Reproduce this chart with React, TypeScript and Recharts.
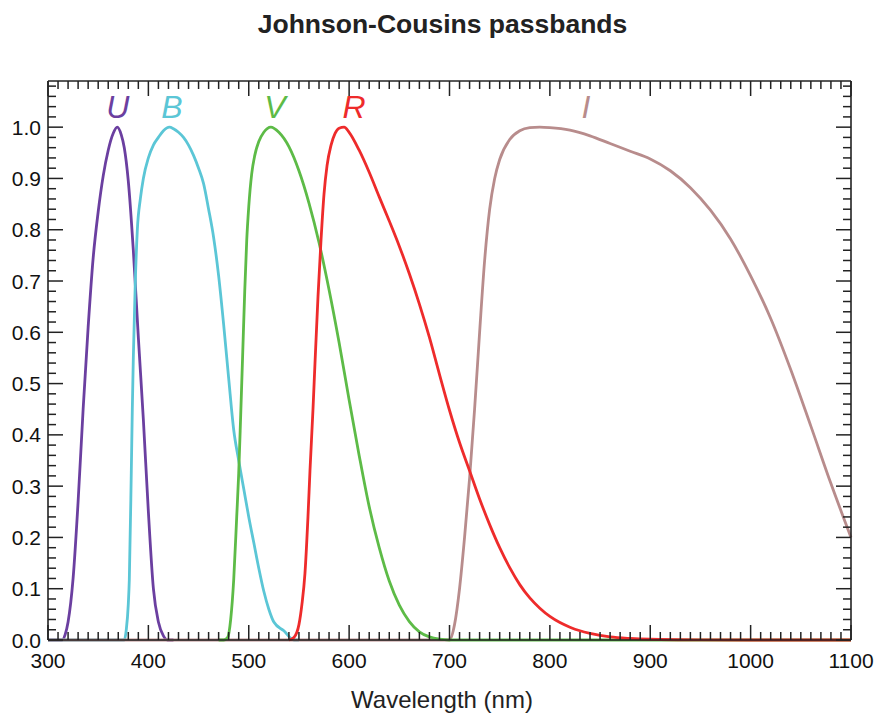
import React from 'react';
import { ComposedChart, Line, XAxis, YAxis, Scatter } from 'recharts';

// ---- Data (wavelength in nm, normalized response) ----
const uWave = [300, 314, 317, 320, 325, 330, 335, 340, 345, 350, 355, 360, 365, 369, 373, 376, 380, 385, 390, 395, 400, 405, 410, 415, 419, 425];
const uResp = [0, 0, 0.01, 0.035, 0.12, 0.27, 0.45, 0.61, 0.745, 0.835, 0.905, 0.955, 0.988, 1.0, 0.985, 0.96, 0.895, 0.76, 0.59, 0.43, 0.25, 0.1, 0.035, 0.008, 0, 0];

const bWave = [300, 376, 378, 380, 381, 383, 384, 385, 387, 389, 392, 395, 400, 405, 410, 415, 421, 425, 430, 435, 440, 445, 450, 455, 460, 465, 470, 475, 480, 485, 490, 495, 500, 505, 510, 515, 520, 525, 535, 545, 550];
const bResp = [0, 0, 0.02, 0.07, 0.117, 0.33, 0.45, 0.55, 0.7, 0.8, 0.86, 0.9, 0.94, 0.965, 0.98, 0.993, 1.0, 0.997, 0.99, 0.98, 0.965, 0.945, 0.92, 0.89, 0.84, 0.785, 0.71, 0.615, 0.51, 0.41, 0.35, 0.295, 0.24, 0.19, 0.14, 0.095, 0.06, 0.035, 0.018, 0, 0];

const iWave = [300, 700, 705, 710, 715, 720, 725, 730, 735, 740, 745, 750, 760, 770, 780, 790, 800, 820, 840, 860, 880, 900, 920, 940, 960, 980, 1000, 1020, 1040, 1060, 1080, 1100];
const iResp = [0, 0, 0.03, 0.1, 0.2, 0.315, 0.45, 0.6, 0.74, 0.84, 0.9, 0.937, 0.976, 0.993, 0.999, 1.0, 0.999, 0.994, 0.983, 0.968, 0.953, 0.938, 0.915, 0.882, 0.838, 0.782, 0.71, 0.627, 0.527, 0.417, 0.305, 0.2];

const vWave = [470, 475, 479, 482, 485, 488, 490, 492, 494, 496, 498, 500, 503, 506, 510, 515, 522, 530, 540, 550, 560, 570, 580, 590, 600, 610, 620, 630, 640, 650, 660, 670, 680, 690, 700, 710, 1100];
const vResp = [0, 0, 0.005, 0.04, 0.117, 0.24, 0.325, 0.44, 0.56, 0.68, 0.78, 0.845, 0.91, 0.945, 0.972, 0.99, 1.0, 0.99, 0.962, 0.915, 0.852, 0.775, 0.683, 0.58, 0.468, 0.36, 0.26, 0.18, 0.115, 0.068, 0.036, 0.016, 0.006, 0.0015, 0, 0, 0];

const rWave = [540, 545, 550, 553, 556, 559, 561, 564, 566, 569, 572, 575, 578, 582, 586, 590, 595, 600, 610, 620, 630, 640, 650, 660, 670, 680, 690, 700, 710, 720, 730, 740, 750, 760, 770, 780, 790, 800, 810, 820, 830, 840, 850, 860, 880, 900, 950, 1000, 1100];
const rResp = [0, 0.005, 0.03, 0.07, 0.13, 0.24, 0.33, 0.45, 0.54, 0.67, 0.78, 0.87, 0.925, 0.965, 0.988, 0.998, 1.0, 0.99, 0.955, 0.912, 0.864, 0.817, 0.768, 0.714, 0.655, 0.59, 0.518, 0.448, 0.385, 0.33, 0.275, 0.225, 0.18, 0.141, 0.108, 0.082, 0.062, 0.046, 0.034, 0.025, 0.018, 0.013, 0.009, 0.006, 0.003, 0.0015, 0.0003, 0, 0];

const bandNames = ['U', 'B', 'V', 'R', 'I'];
const bandColors = ['#6B3FA0', '#5BC6D6', '#5DBB47', '#EE2B2B', '#B88C8C'];
const bandLabelWave = [369.5, 423.5, 526, 605, 836];
const bandLabelLevel = [1.04, 1.04, 1.04, 1.04, 1.04];

const xMajorTicks = [300, 400, 500, 600, 700, 800, 900, 1000, 1100];
const yMajorTicks = [0, 0.1, 0.2, 0.3, 0.4, 0.5, 0.6, 0.7, 0.8, 0.9, 1.0];
const xAllTicks = Array.from({ length: 81 }, (_, i) => 300 + i * 10);
const yAllTicks = Array.from({ length: 55 }, (_, i) => (i * 2) / 100);

const toPoints = (w: number[], r: number[]) => w.map((x, i) => ({ w: x, v: r[i] }));
const uData = toPoints(uWave, uResp);
const bData = toPoints(bWave, bResp);
const vData = toPoints(vWave, vResp);
const rData = toPoints(rWave, rResp);
const iData = toPoints(iWave, iResp);
const labelData = bandNames.map((n, i) => ({ w: bandLabelWave[i], v: bandLabelLevel[i], name: n, color: bandColors[i] }));

const FONT = '"Liberation Sans", Arial, Helvetica, sans-serif';
const TICK = '#222';
const isXMajor = (v: number) => xMajorTicks.includes(v);
const isYMajor = (v: number) => yMajorTicks.some((t) => Math.abs(t - v) < 1e-6);

const XBottomTick = (props: any) => {
  const { x, y, payload } = props;
  const v = payload.value;
  const major = isXMajor(v);
  return (
    <g>
      <line x1={x} x2={x} y1={y} y2={y - (major ? 15 : 8)} stroke={TICK} strokeWidth={1.5} />
      {major && (
        <text x={x} y={y + 28} textAnchor="middle" fontSize={21} fill="#111" fontFamily={FONT}>{v}</text>
      )}
    </g>
  );
};

const XTopTick = (props: any) => {
  const { x, y, payload } = props;
  const major = isXMajor(payload.value);
  return <line x1={x} x2={x} y1={y} y2={y + (major ? 15 : 8)} stroke={TICK} strokeWidth={1.5} />;
};

const YLeftTick = (props: any) => {
  const { x, y, payload } = props;
  const v = payload.value;
  const major = isYMajor(v);
  return (
    <g>
      <line x1={x} x2={x + (major ? 15 : 8)} y1={y} y2={y} stroke={TICK} strokeWidth={1.5} />
      {major && (
        <text x={x - 7} y={y + 7.5} textAnchor="end" fontSize={21} fill="#111" fontFamily={FONT}>{v.toFixed(1)}</text>
      )}
    </g>
  );
};

const YRightTick = (props: any) => {
  const { x, y, payload } = props;
  const major = isYMajor(payload.value);
  return <line x1={x} x2={x - (major ? 15 : 8)} y1={y} y2={y} stroke={TICK} strokeWidth={1.5} />;
};

const BandLabel = (props: any) => {
  const { cx, cy, payload } = props;
  return (
    <text x={cx} y={cy + 11.5} textAnchor="middle" fontSize={32} fontStyle="italic" fill={payload.color} fontFamily={FONT}>
      {payload.name}
    </text>
  );
};

const axisLine = { stroke: '#222', strokeWidth: 1.6 };

export default function App() {
  return (
    <div style={{ position: 'absolute', left: 0, top: 0, width: 878, height: 715, background: '#fff' }}>
      <ComposedChart width={878} height={715} margin={{ top: 80, right: 26, bottom: 0, left: 0 }}>
        <XAxis xAxisId="x" dataKey="w" type="number" domain={[300, 1100]} ticks={xAllTicks} interval={0}
          orientation="bottom" height={75} tickSize={0} tickMargin={0} tickLine={false} axisLine={axisLine} tick={XBottomTick} />
        <XAxis xAxisId="xt" dataKey="w" type="number" domain={[300, 1100]} ticks={xAllTicks} interval={0}
          orientation="top" height={1} tickSize={0} tickMargin={0} tickLine={false} axisLine={axisLine} tick={XTopTick} />
        <YAxis yAxisId="y" type="number" domain={[0, 1.09]} ticks={yAllTicks} interval={0}
          orientation="left" width={48} tickSize={0} tickMargin={0} tickLine={false} axisLine={axisLine} tick={YLeftTick} />
        <YAxis yAxisId="yr" type="number" domain={[0, 1.09]} ticks={yAllTicks} interval={0}
          orientation="right" width={1} tickSize={0} tickMargin={0} tickLine={false} axisLine={axisLine} tick={YRightTick} />
        {/* invisible series binding the top and right frame axes so their ticks are computed */}
        <Line xAxisId="xt" yAxisId="yr" data={iData} dataKey="v" type="monotone" stroke="none" strokeOpacity={0} dot={false} activeDot={false} isAnimationActive={false} />
        <Line xAxisId="x" yAxisId="y" data={uData} dataKey="v" type="monotone" stroke={bandColors[0]} strokeWidth={2.8} dot={false} isAnimationActive={false} />
        <Line xAxisId="x" yAxisId="y" data={bData} dataKey="v" type="monotone" stroke={bandColors[1]} strokeWidth={2.8} dot={false} isAnimationActive={false} />
        <Line xAxisId="x" yAxisId="y" data={iData} dataKey="v" type="monotone" stroke={bandColors[4]} strokeWidth={2.8} dot={false} isAnimationActive={false} />
        <Line xAxisId="x" yAxisId="y" data={vData} dataKey="v" type="monotone" stroke={bandColors[2]} strokeWidth={2.8} dot={false} isAnimationActive={false} />
        <Line xAxisId="x" yAxisId="y" data={rData} dataKey="v" type="monotone" stroke={bandColors[3]} strokeWidth={2.8} dot={false} isAnimationActive={false} />
        <Scatter xAxisId="x" yAxisId="y" data={labelData} dataKey="v" shape={BandLabel} isAnimationActive={false} />
      </ComposedChart>
      <svg width={878} height={715} style={{ position: 'absolute', left: 0, top: 0, pointerEvents: 'none' }}>
        <text x={442.5} y={33} textAnchor="middle" fontSize={26.5} fontWeight="bold" fill="#222" fontFamily={FONT}>Johnson-Cousins passbands</text>
        <text x={442} y={708} textAnchor="middle" fontSize={24} fill="#222" fontFamily={FONT}>Wavelength (nm)</text>
      </svg>
    </div>
  );
}
